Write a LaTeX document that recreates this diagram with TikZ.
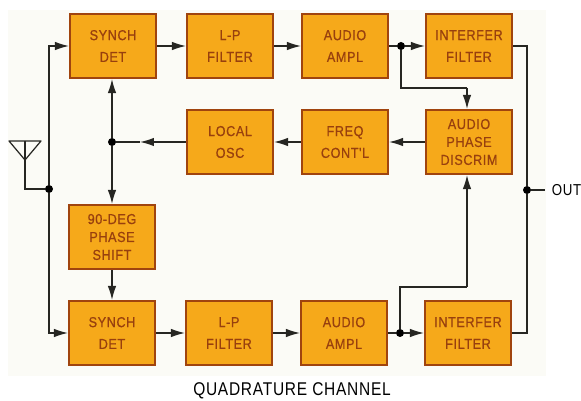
\documentclass[tikz,border=0pt]{standalone}
\usepackage{fontspec}
\setmainfont{Liberation Sans}
\newfontfamily\boxfont[LetterSpace=4, FakeStretch=0.88, FakeBold=0.6]{Liberation Sans}
\newfontfamily\labelfont[LetterSpace=4, FakeStretch=0.84]{Liberation Sans}
\usetikzlibrary{arrows.meta}
\definecolor{boxfill}{HTML}{F6A91A}
\definecolor{boxedge}{HTML}{A0440E}
\definecolor{boxtext}{HTML}{98400E}
\definecolor{wirecol}{HTML}{262622}
\definecolor{paper}{HTML}{FBFBF6}
\begin{document}
\begin{tikzpicture}[x=0.02cm, y=-0.02cm,
	block/.style={rectangle, draw=boxedge, fill=boxfill, line width=1.2pt, minimum width=1.72cm, minimum height=1.28cm, inner sep=0pt, align=center, text=boxtext, font=\boxfont\fontsize{8.2}{12.4}\selectfont},
	block3/.style={block, font=\boxfont\fontsize{8.2}{10.2}\selectfont},
	wire/.style={draw=wirecol, line width=0.7pt},
	arr/.style={wire, -{Latex[length=0.28cm, width=0.17cm]}},
	dotjn/.style={circle, fill=black, inner sep=0pt, minimum size=0.16cm}]
		\useasboundingbox (0, 0) rectangle (581, 401);
		\fill[paper] (8, 10) rectangle (546, 376);
		\node[block] (det1) at (113, 46) {SYNCH\\DET};
		\node[block] (lp1) at (230, 46) {L-P\\FILTER};
		\node[block] (amp1) at (345, 46) {AUDIO\\AMPL};
		\node[block] (int1) at (469, 46) {INTERFER\\FILTER};
		\node[block] (osc) at (230, 142) {LOCAL\\OSC};
		\node[block] (freq) at (345, 142) {FREQ\\CONT'L};
		\node[block3] (disc) at (469, 142) {AUDIO\\PHASE\\DISCRIM};
		\node[block3] (shift) at (112, 237) {90-DEG\\PHASE\\SHIFT};
		\node[block] (det2) at (112, 333) {SYNCH\\DET};
		\node[block] (lp2) at (229, 333) {L-P\\FILTER};
		\node[block] (amp2) at (344, 333) {AUDIO\\AMPL};
		\node[block] (int2) at (468, 333) {INTERFER\\FILTER};
		\node[dotjn] (jant) at (49, 189) {};
		\node[dotjn] (josc) at (112, 142) {};
		\node[dotjn] (jamp1) at (401, 46) {};
		\node[dotjn] (jamp2) at (400, 333) {};
		\node[dotjn] (jout) at (527, 190) {};
		\node[font=\labelfont\fontsize{9}{10}\selectfont, inner sep=0pt, outer sep=0.14cm] (out) at (566.5, 190) {OUT};
		\node[font=\labelfont\fontsize{10.5}{12}\selectfont, inner sep=0pt] (title) at (292, 391) {QUADRATURE CHANNEL};
		\coordinate (ant) at (25, 141);
		\coordinate (tipa) at (140, 142);
		\coordinate (tipb) at (467, 88);
		\coordinate (tipc) at (467, 287);
		\coordinate (bendr) at (527, 46);
		\draw[wire, line join=round] (9, 141) -- (41, 141) -- (25, 160) -- cycle;
		\draw[wire] (ant) -- (25, 189) -- (jant);
		\draw[arr] (jant) |- (det1);
		\draw[arr] (jant) |- (det2);
		\draw[arr] (det1) -- (lp1);
		\draw[arr] (lp1) -- (amp1);
		\draw[wire] (amp1) -- (jamp1);
		\draw[arr] (jamp1) -- (int1);
		\draw[wire] (jamp1) |- (tipb);
		\draw[arr] (tipb) -- (tipb |- disc.north);
		\draw[arr] (disc) -- (freq);
		\draw[arr] (freq) -- (osc);
		\draw[arr] (osc) -- (tipa);
		\draw[wire] (tipa) -- (josc);
		\draw[arr] (josc) -- (josc |- det1.south);
		\draw[arr] (josc) -- (shift);
		\draw[arr] (shift) -- (det2);
		\draw[arr] (det2) -- (lp2);
		\draw[arr] (lp2) -- (amp2);
		\draw[wire] (amp2) -- (jamp2);
		\draw[arr] (jamp2) -- (int2);
		\draw[wire] (jamp2) |- (tipc);
		\draw[arr] (tipc) -- (tipc |- disc.south);
		\draw[wire] (int1) -- (bendr) -- (jout);
		\draw[wire] (jout) |- (int2);
		\draw[wire] (jout) -- (out);
	\end{tikzpicture}
\end{document}
